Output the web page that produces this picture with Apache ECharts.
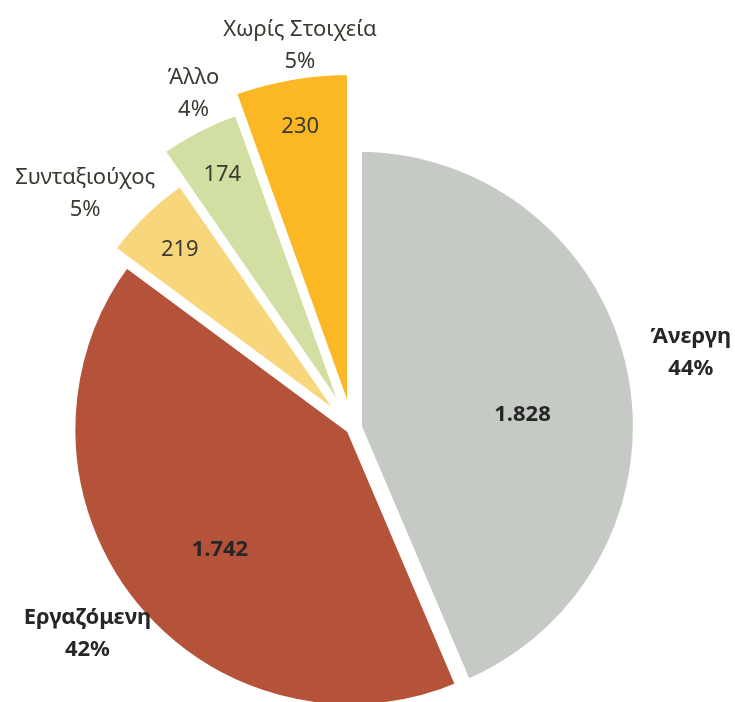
<!DOCTYPE html>
<html>
<head>
<meta charset="utf-8">
<script src="https://cdn.jsdelivr.net/npm/echarts@6/dist/echarts.min.js"></script>
<style>
html,body{margin:0;padding:0;background:#fff;}
#chart{width:735px;height:702px;}
</style>
</head>
<body>
<div id="chart"></div>
<script>
// ---- data ----
const categories = ['Άνεργη', 'Εργαζόμενη', 'Συνταξιούχος', 'Άλλο', 'Χωρίς Στοιχεία'];
const values = [1828, 1742, 219, 174, 230];

// ---- styles / layout (not data) ----
const colors = ['#C5CAC5', '#B5533A', '#F7D67C', '#D2DFA2', '#FBB824'];
const boldLabel = [true, true, false, false, false];
const center = [352, 428];
const sliceRadius = [279, 279, 295, 333, 351];
const sliceOffset = [6, 2, 5, 4, 6];
const innerLabelRadius = [171, 178, 246, 285, 305];
const innerNudge = [[0, 22], [10, 10], [1, 1], [2, 3], [1, 2]];
const outerLabelRadius = [350, 334, 356, 372, 388];
const outerNudge = [[-7, -5], [0, -3], [-17, 24], [13, -1], [15, 3]];
const FONT = 'Noto Sans';

function fmtThousands(v) {
  return String(v).replace(/\B(?=(\d{3})+(?!\d))/g, '.');
}

const series = [];

// slices: one series per category, each with its own radius and explosion
categories.forEach((cat, k) => {
  series.push({
    type: 'pie',
    center: center,
    radius: sliceRadius[k],
    startAngle: 90,
    clockwise: true,
    selectedMode: 'multiple',
    selectedOffset: sliceOffset[k],
    silent: true,
    animation: false,
    emphasis: { disabled: true },
    label: { show: false },
    labelLine: { show: false },
    z: 2,
    data: values.map((v, i) => ({
      name: categories[i],
      value: v,
      selected: i === k,
      itemStyle: i === k
        ? { color: colors[i], borderColor: '#ffffff', borderWidth: 8 }
        : { color: 'rgba(0,0,0,0)', borderWidth: 0 }
    }))
  });
});

// labels: thin invisible rings whose inside labels sit on each slice's bisector
function labelSeries(k, rho, nudge, formatter, lineHeight) {
  return {
    type: 'pie',
    center: center,
    radius: [rho - 1, rho + 1],
    startAngle: 90,
    clockwise: true,
    silent: true,
    animation: false,
    emphasis: { disabled: true },
    percentPrecision: 0,
    labelLine: { show: false },
    labelLayout: { dx: nudge[0], dy: nudge[1] },
    z: 5,
    label: {
      show: false,
      position: 'inside',
      formatter: formatter,
      fontFamily: FONT,
      fontSize: 22,
      lineHeight: lineHeight,
      fontWeight: boldLabel[k] ? 'bold' : 'normal',
      color: boldLabel[k] ? '#262626' : '#3a3a30',
      align: 'center'
    },
    data: values.map((v, i) => ({
      name: categories[i],
      value: v,
      itemStyle: { color: 'rgba(0,0,0,0)', borderWidth: 0 },
      label: { show: i === k }
    }))
  };
}

categories.forEach((cat, k) => {
  series.push(labelSeries(k, innerLabelRadius[k], innerNudge[k],
    p => fmtThousands(p.value), 26));
  series.push(labelSeries(k, outerLabelRadius[k], outerNudge[k],
    p => p.name + '\n' + p.percent + '%', 32));
});

const chart = echarts.init(document.getElementById('chart'), null, { renderer: 'canvas' });
chart.setOption({
  backgroundColor: '#ffffff',
  animation: false,
  series: series
});
</script>
</body>
</html>
